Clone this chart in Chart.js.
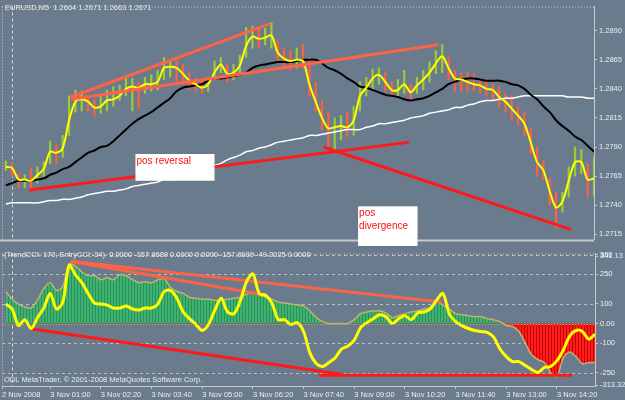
<!DOCTYPE html>
<html>
<head>
    <meta charset="utf-8" />
    <title>EURUSD,M5 - TrendCCI</title>
    <script src="https://cdn.jsdelivr.net/npm/chart.js@4.4.1/dist/chart.umd.min.js"></script>
    <style>
        body { margin: 0; background: #6b7b8e; }
        #wrap { position: relative; width: 625px; height: 400px; overflow: hidden; }
        #price { position: absolute; left: 0; top: 0; }
        #cci { position: absolute; left: 0; top: 247px; }
    </style>
</head>
<body>
<div id="wrap">
    <canvas id="price" width="625" height="246"></canvas>
    <canvas id="cci" width="625" height="153"></canvas>
</div>

<script>
// minutes from 3 Nov 2008 00:00, one sample every 10 minutes
const times = [
    -10, 0, 10, 20, 30, 40, 50, 60, 70, 80,
    90, 100, 110, 120, 130, 140, 150, 160, 170, 180,
    190, 200, 210, 220, 230, 240, 250, 260, 270, 280,
    290, 300, 310, 320, 330, 340, 350, 360, 370, 380,
    390, 400, 410, 420, 430, 440, 450, 460, 470, 480,
    490, 500, 510, 520, 530, 540, 550, 560, 570, 580,
    590, 600, 610, 620, 630, 640, 650, 660, 670, 680,
    690, 700, 710, 720, 730, 740, 750, 760, 770, 780,
    790, 800, 810, 820, 830, 840, 850, 860, 870, 880,
    890, 900, 910, 920
];

// yellow price line
const price = [
    1.2773, 1.2772, 1.2762, 1.2762, 1.2761, 1.2766, 1.2771, 1.2786, 1.2785, 1.2789,
    1.2813, 1.2829, 1.2831, 1.2829, 1.2824, 1.2825, 1.2830, 1.2831, 1.2834, 1.2840,
    1.2842, 1.2841, 1.2844, 1.2844, 1.2846, 1.2858, 1.2859, 1.2858, 1.2853, 1.2847,
    1.2844, 1.2841, 1.2844, 1.2854, 1.2861, 1.2853, 1.2854, 1.2860, 1.2877, 1.2885,
    1.2883, 1.2884, 1.2886, 1.2871, 1.2866, 1.2864, 1.2865, 1.2864, 1.2844, 1.2829,
    1.2815, 1.2806, 1.2807, 1.2808, 1.2807, 1.2813, 1.2834, 1.2841, 1.2849, 1.2852,
    1.2846, 1.2839, 1.2839, 1.2844, 1.2837, 1.2843, 1.2848, 1.2854, 1.2862, 1.2868,
    1.2858, 1.2849, 1.2848, 1.2846, 1.2844, 1.2843, 1.2840, 1.2839, 1.2833, 1.2829,
    1.2823, 1.2817, 1.2810, 1.2794, 1.2777, 1.2770, 1.2752, 1.2738, 1.2743, 1.2761,
    1.2777, 1.2777, 1.2762, 1.2763
];

const candleHigh = [
    1.2778, 1.2776, 1.2767, 1.2766, 1.2772, 1.2773, 1.2777, 1.2795, 1.2792, 1.2800,
    1.2834, 1.2839, 1.2838, 1.2834, 1.2831, 1.2834, 1.2839, 1.2842, 1.2843, 1.2850,
    1.2849, 1.2846, 1.2850, 1.2852, 1.2856, 1.2867, 1.2864, 1.2864, 1.2861, 1.2854,
    1.2849, 1.2848, 1.2850, 1.2864, 1.2867, 1.2861, 1.2861, 1.2869, 1.2893, 1.2894,
    1.2892, 1.2892, 1.2897, 1.2881, 1.2875, 1.2873, 1.2875, 1.2878, 1.2867, 1.2846,
    1.2830, 1.2820, 1.2815, 1.2817, 1.2820, 1.2825, 1.2846, 1.2850, 1.2857, 1.2858,
    1.2854, 1.2846, 1.2848, 1.2856, 1.2844, 1.2850, 1.2856, 1.2863, 1.2873, 1.2878,
    1.2867, 1.2856, 1.2854, 1.2854, 1.2853, 1.2849, 1.2848, 1.2844, 1.2842, 1.2836,
    1.2834, 1.2825, 1.2820, 1.2806, 1.2790, 1.2778, 1.2763, 1.2751, 1.2751, 1.2773,
    1.2790, 1.2788, 1.2776, 1.2781
];

const candleLow = [
    1.2770, 1.2765, 1.2755, 1.2755, 1.2753, 1.2759, 1.2765, 1.2776, 1.2776, 1.2781,
    1.2800, 1.2820, 1.2821, 1.2821, 1.2817, 1.2819, 1.2821, 1.2825, 1.2830, 1.2834,
    1.2821, 1.2823, 1.2836, 1.2838, 1.2839, 1.2848, 1.2850, 1.2846, 1.2844, 1.2839,
    1.2838, 1.2836, 1.2838, 1.2848, 1.2854, 1.2846, 1.2848, 1.2853, 1.2867, 1.2875,
    1.2875, 1.2878, 1.2875, 1.2863, 1.2858, 1.2856, 1.2858, 1.2858, 1.2834, 1.2821,
    1.2805, 1.2790, 1.2788, 1.2796, 1.2799, 1.2800, 1.2821, 1.2834, 1.2839, 1.2844,
    1.2838, 1.2833, 1.2834, 1.2836, 1.2831, 1.2836, 1.2839, 1.2846, 1.2853, 1.2854,
    1.2848, 1.2838, 1.2838, 1.2838, 1.2838, 1.2836, 1.2834, 1.2830, 1.2825, 1.2820,
    1.2813, 1.2809, 1.2800, 1.2784, 1.2765, 1.2762, 1.2740, 1.2720, 1.2734, 1.2747,
    1.2765, 1.2767, 1.2747, 1.2748
];

// black moving average
const maFast = [
    1.2757, 1.2759, 1.2761, 1.2761, 1.2761, 1.2762, 1.2763, 1.2766, 1.2768, 1.2771,
    1.2773, 1.2777, 1.2781, 1.2785, 1.2787, 1.2790, 1.2791, 1.2795, 1.2800, 1.2805,
    1.2810, 1.2814, 1.2817, 1.2820, 1.2824, 1.2828, 1.2832, 1.2838, 1.2841, 1.2842,
    1.2843, 1.2844, 1.2847, 1.2849, 1.2849, 1.2850, 1.2851, 1.2852, 1.2854, 1.2858,
    1.2860, 1.2861, 1.2862, 1.2863, 1.2863, 1.2863, 1.2864, 1.2865, 1.2865, 1.2865,
    1.2862, 1.2858, 1.2856, 1.2853, 1.2849, 1.2846, 1.2842, 1.2841, 1.2839, 1.2837,
    1.2835, 1.2834, 1.2833, 1.2831, 1.2830, 1.2831, 1.2832, 1.2834, 1.2837, 1.2840,
    1.2844, 1.2846, 1.2848, 1.2849, 1.2849, 1.2848, 1.2847, 1.2847, 1.2847, 1.2846,
    1.2844, 1.2843, 1.2840, 1.2835, 1.2831, 1.2825, 1.2820, 1.2813, 1.2808, 1.2804,
    1.2799, 1.2796, 1.2791, 1.2786
];

// white moving average
const maSlow = [
    1.2741, 1.2742, 1.2742, 1.2742, 1.2742, 1.2742, 1.2743, 1.2744, 1.2744, 1.2745,
    1.2745, 1.2746, 1.2747, 1.2749, 1.2750, 1.2751, 1.2752, 1.2752, 1.2753, 1.2754,
    1.2756, 1.2757, 1.2758, 1.2759, 1.2760, 1.2762, 1.2762, 1.2764, 1.2766, 1.2767,
    1.2769, 1.2771, 1.2772, 1.2774, 1.2776, 1.2779, 1.2781, 1.2783, 1.2786, 1.2787,
    1.2789, 1.2790, 1.2792, 1.2794, 1.2795, 1.2796, 1.2797, 1.2798, 1.2800, 1.2800,
    1.2801, 1.2802, 1.2803, 1.2804, 1.2805, 1.2805, 1.2805, 1.2807, 1.2808, 1.2810,
    1.2810, 1.2811, 1.2812, 1.2813, 1.2815, 1.2816, 1.2817, 1.2819, 1.2820, 1.2821,
    1.2822, 1.2824, 1.2824, 1.2826, 1.2827, 1.2829, 1.2830, 1.2830, 1.2831, 1.2832,
    1.2832, 1.2833, 1.2834, 1.2834, 1.2834, 1.2834, 1.2834, 1.2834, 1.2834, 1.2833,
    1.2833, 1.2833, 1.2832, 1.2832
];

// TrendCCI(170) histogram and EntryCCI(34)
const trendCci = [
    163, 124, 99, 84, 79, 119, 178, 208, 168, 188,
    302, 292, 262, 243, 243, 223, 233, 223, 248, 243,
    223, 208, 213, 208, 223, 228, 183, 163, 153, 134,
    129, 124, 124, 119, 119, 124, 129, 134, 149, 158,
    144, 134, 124, 109, 104, 99, 94, 89, 64, 30,
    10, 0, 0, 0, 0, 20, 50, 59, 64, 64,
    54, 30, 40, 50, 59, 64, 74, 84, 109, 94,
    74, 50, 45, 40, 35, 35, 25, 20, 10, -10,
    -15, -40, -99, -158, -183, -198, -248, -267, -173, -144,
    -168, -203, -198, -198
];

const entryCci = [
    99, 74, -10, 20, -25, 30, 79, 153, 74, 109,
    297, 248, 208, 153, 104, 99, 94, 79, 79, 89,
    74, 69, 79, 79, 99, 163, 168, 129, 59, 25,
    -5, -35, -5, 69, 129, 59, 50, 114, 213, 252,
    153, 144, 104, 20, 20, -5, 5, -40, -149, -203,
    -218, -198, -173, -129, -114, -84, -20, 5, 25, 45,
    35, 0, 25, 40, 20, 54, 59, 74, 119, 153,
    50, 10, -10, -25, -35, -40, -45, -69, -129, -168,
    -193, -193, -213, -233, -248, -223, -218, -188, -134, -64,
    -35, -40, -79, -54
];

// hand drawn trend lines [time, value]
const priceLineUpper = [[93, 1.2833], [408, 1.2896]];
const priceLineMid = [[93, 1.2831], [674, 1.2878]];
const priceLineReversal = [[27, 1.2753], [627, 1.2794]];
const priceLineDivergence = [[492, 1.2790], [884, 1.2719]];
const cciLineUpper = [[92, 317], [678, 109]];
const cciLineMid = [[92, 317], [392, 149]];
const cciLineLow = [[27, -25], [519, -257]];
const cciLineFlat = [[484, -262], [884, -262]];

// axis ticks
const priceTicks = [1.2715, 1.2740, 1.2765, 1.2790, 1.2815, 1.2840, 1.2865, 1.2890];
const cciTicks = [350, 341.13, 250, 100, 0, -100, -250, -313.327];
const cciTickLabels = ['350', '341.13', '250', '100', '0.00', '-100', '-250', '-313.327'];
const cciLevels = [350, 250, 100, -100, -250];
const timeTicks = [-16, 60, 140, 220, 300, 380, 460, 540, 620, 700, 780, 860];
const timeTickLabels = ['2 Nov 2008', '3 Nov 01:00', '3 Nov 02:20', '3 Nov 03:40', '3 Nov 05:00', '3 Nov 06:20',
    '3 Nov 07:40', '3 Nov 09:00', '3 Nov 10:20', '3 Nov 11:40', '3 Nov 13:00', '3 Nov 14:20'];
const daySeparator = 0;

Chart.defaults.font.family = '"Liberation Sans", Arial, sans-serif';
Chart.defaults.font.size = 7.5;
Chart.defaults.color = '#eeeeee';

const FRAME = '#c8c8c8';

function xy(arr) {
    return times.map((t, i) => ({ x: t, y: arr[i] }));
}
function seg(pts) {
    return pts.map(p => ({ x: p[0], y: p[1] }));
}
function lineSet(data, color, width, order, tension) {
    return {
        type: 'line', data: data, borderColor: color, borderWidth: width,
        pointRadius: 0, tension: tension || 0, fill: false, order: order
    };
}
function stripes(ctx, main, dark) {
    const c = document.createElement('canvas');
    c.width = 3; c.height = 1;
    const g = c.getContext('2d');
    g.fillStyle = main; g.fillRect(0, 0, 3, 1);
    g.fillStyle = dark; g.fillRect(2, 0, 1, 1);
    return ctx.createPattern(c, 'repeat');
}

// frame, separators, level lines, captions and note boxes
const paneDecor = {
    id: 'paneDecor',
    beforeDatasetsDraw(chart, args, opts) {
        const { ctx, chartArea: a, scales } = chart;
        ctx.save();
        ctx.strokeStyle = FRAME;
        ctx.lineWidth = 1;
        ctx.setLineDash([1, 2]);
        ctx.beginPath();
        ctx.moveTo(a.left + 0.5, a.top); ctx.lineTo(a.left + 0.5, a.bottom);
        ctx.moveTo(a.left, a.top + 0.5); ctx.lineTo(a.right, a.top + 0.5);
        ctx.stroke();

        (opts.levels || []).forEach(v => {
            const y = Math.round(scales.y.getPixelForValue(v)) + 0.5;
            ctx.setLineDash([3, 3]);
            ctx.strokeStyle = '#b9c0c8';
            ctx.beginPath(); ctx.moveTo(a.left, y); ctx.lineTo(a.right, y); ctx.stroke();
        });

        ctx.setLineDash([3, 3]);
        ctx.strokeStyle = '#dcdcdc';
        const xd = Math.round(scales.x.getPixelForValue(daySeparator)) + 0.5;
        ctx.beginPath(); ctx.moveTo(xd, a.top); ctx.lineTo(xd, a.bottom); ctx.stroke();

        if (opts.bottomBorder) {
            ctx.setLineDash([]);
            ctx.lineWidth = 2;
            ctx.strokeStyle = FRAME;
            ctx.beginPath(); ctx.moveTo(0, a.bottom + 1); ctx.lineTo(a.right, a.bottom + 1); ctx.stroke();
        }
        ctx.restore();
    },
    afterDatasetsDraw(chart, args, opts) {
        const { ctx, scales } = chart;
        ctx.save();
        if (opts.zeroLine) {
            const a = chart.chartArea;
            const y = Math.round(scales.y.getPixelForValue(0)) + 0.5;
            ctx.strokeStyle = '#c2b35a';
            ctx.setLineDash([1, 2]);
            ctx.beginPath(); ctx.moveTo(a.left, y); ctx.lineTo(a.right, y); ctx.stroke();
            ctx.setLineDash([]);
        }
        (opts.notes || []).forEach(n => {
            const x0 = scales.x.getPixelForValue(n.t0), x1 = scales.x.getPixelForValue(n.t1);
            const y0 = scales.y.getPixelForValue(n.top), y1 = scales.y.getPixelForValue(n.bottom);
            ctx.fillStyle = '#ffffff';
            ctx.fillRect(x0, y0, x1 - x0, y1 - y0);
            ctx.fillStyle = '#ff1010';
            ctx.font = '10px "Liberation Sans", Arial, sans-serif';
            ctx.textBaseline = 'top';
            n.text.forEach((s, i) => ctx.fillText(s, x0 + 1, y0 + 2 + i * 13));
        });
        ctx.fillStyle = '#ececec';
        ctx.font = '7.5px "Liberation Sans", Arial, sans-serif';
        ctx.textBaseline = 'top';
        (opts.captions || []).forEach(c => ctx.fillText(c.text, c.x, c.y));
        ctx.restore();
    }
};

// ---------- price pane ----------
const candleColors = price.map((p, i) => (i > 0 && p < price[i - 1]) ? '#ff6040' : '#9acd32');

new Chart(document.getElementById('price'), {
    type: 'line',
    data: {
        datasets: [
            lineSet(seg(priceLineUpper), '#ff6347', 3, 1),
            lineSet(seg(priceLineMid), '#ff6347', 3, 1),
            lineSet(seg(priceLineReversal), '#ff1a1a', 3, 1),
            lineSet(seg(priceLineDivergence), '#ff1a1a', 3, 1),
            lineSet(xy(price), '#ffff00', 2, 3, 0.3),
            lineSet(xy(maFast), '#000000', 2, 4, 0.4),
            lineSet(xy(maSlow), '#ffffff', 1.5, 5, 0.4),
            {
                type: 'bar',
                data: times.map((t, i) => ({ x: t, y: [candleLow[i], candleHigh[i]] })),
                backgroundColor: candleColors,
                barThickness: 1.5,
                grouped: false,
                order: 6
            }
        ]
    },
    options: {
        responsive: false,
        devicePixelRatio: 1,
        animation: false,
        layout: { padding: { top: 2, left: 2, right: 0, bottom: 3 } },
        plugins: {
            legend: { display: false },
            tooltip: { enabled: false },
            paneDecor: {
                bottomBorder: true,
                notes: [
                    { text: ['pos reversal'], t0: 195, t1: 320, top: 1.2784, bottom: 1.2761 },
                    { text: ['pos', 'divergence'], t0: 547, t1: 641, top: 1.2739, bottom: 1.2700 }
                ],
                captions: [{ text: 'EURUSD,M5  1.2664 1.2671 1.2663 1.2671', x: 5, y: 4 }]
            }
        },
        scales: {
            x: { type: 'linear', min: -16, max: 920, display: false, offset: false, grid: { offset: false } },
            y: {
                position: 'right',
                min: 1.27105, max: 1.29108,
                afterBuildTicks: s => { s.ticks = priceTicks.map(v => ({ value: v })); },
                afterFit: s => { s.width = 31; },
                ticks: { callback: v => v.toFixed(4), padding: 2, color: '#eeeeee' },
                grid: { drawOnChartArea: false, tickLength: 3, color: FRAME },
                border: { color: FRAME }
            }
        }
    },
    plugins: [paneDecor]
});

// ---------- CCI pane ----------
const cciCtx = document.getElementById('cci').getContext('2d');
const greenFill = stripes(cciCtx, '#3cb371', '#2c8f57');
const redFill = stripes(cciCtx, '#ff1c1c', '#c40000');

new Chart(cciCtx, {
    type: 'line',
    data: {
        datasets: [
            lineSet(xy(entryCci), '#ffff00', 3, 1, 0.3),
            lineSet(seg(cciLineUpper), '#ff6347', 3, 2),
            lineSet(seg(cciLineMid), '#ff6347', 3, 2),
            lineSet(seg(cciLineLow), '#ff1a1a', 3, 2),
            lineSet(seg(cciLineFlat), '#ff1a1a', 3, 2),
            {
                type: 'line',
                data: xy(trendCci),
                borderColor: '#bdb470',
                borderWidth: 1.5,
                pointRadius: 0,
                tension: 0.3,
                fill: { target: 'origin', above: greenFill, below: redFill },
                order: 5
            }
        ]
    },
    options: {
        responsive: false,
        devicePixelRatio: 1,
        animation: false,
        layout: { padding: { top: 3, left: 2, right: 0, bottom: 0 } },
        plugins: {
            legend: { display: false },
            tooltip: { enabled: false },
            paneDecor: {
                levels: cciLevels,
                zeroLine: true,
                captions: [
                    { text: '(TrendCCI: 170, EntryCCI: 34)  0.0000 -157.8689 0.0000 0.0000 -157.8689 -49.2025 0.0000', x: 4, y: 4 },
                    { text: 'ODL MetaTrader, \u00a9 2001-2008 MetaQuotes Software Corp.', x: 4, y: 129 }
                ]
            }
        },
        scales: {
            x: {
                type: 'linear', min: -16, max: 920, offset: false,
                afterBuildTicks: s => { s.ticks = timeTicks.map(v => ({ value: v })); },
                afterFit: s => { s.height = 14; },
                ticks: {
                    callback: (v, i) => timeTickLabels[i], align: 'start', autoSkip: false,
                    maxRotation: 0, padding: 1, color: '#eeeeee'
                },
                grid: { drawOnChartArea: false, tickLength: 3, color: FRAME, offset: false },
                border: { color: FRAME }
            },
            y: {
                position: 'right',
                min: -317, max: 356,
                afterBuildTicks: s => { s.ticks = cciTicks.map(v => ({ value: v })); },
                afterFit: s => { s.width = 30; },
                ticks: { callback: (v, i) => cciTickLabels[i], padding: 2, color: '#eeeeee' },
                grid: { drawOnChartArea: false, tickLength: 3, color: FRAME },
                border: { color: FRAME }
            }
        }
    },
    plugins: [paneDecor]
});
</script>
</body>
</html>
